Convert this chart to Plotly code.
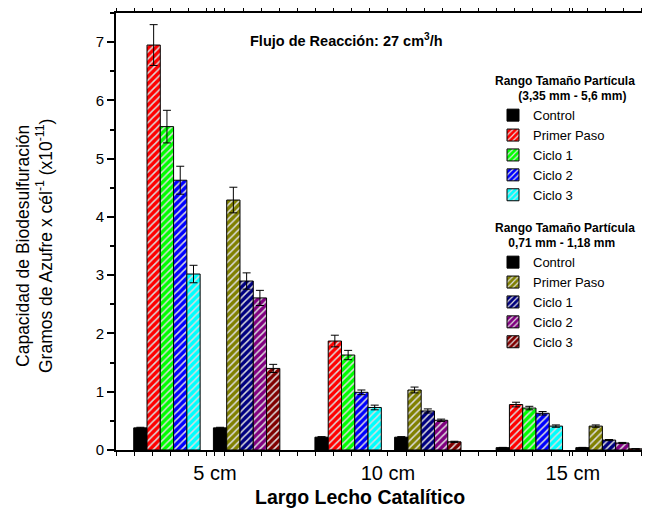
import plotly.graph_objects as go

# ---- data ----
categories = ["5 cm", "10 cm", "15 cm"]
series_names = ["Control", "Primer Paso", "Ciclo 1", "Ciclo 2", "Ciclo 3"]

# Range 1: 3,35 mm - 5,6 mm
r1_control = [0.38, 0.22, 0.04]
r1_primer = [6.95, 1.87, 0.78]
r1_ciclo1 = [5.55, 1.63, 0.72]
r1_ciclo2 = [4.63, 0.99, 0.63]
r1_ciclo3 = [3.02, 0.73, 0.41]
r1_control_err = [0.01, 0.01, 0.005]
r1_primer_err = [0.35, 0.10, 0.04]
r1_ciclo1_err = [0.28, 0.08, 0.03]
r1_ciclo2_err = [0.24, 0.04, 0.03]
r1_ciclo3_err = [0.15, 0.04, 0.02]

# Range 2: 0,71 mm - 1,18 mm
r2_control = [0.38, 0.22, 0.04]
r2_primer = [4.29, 1.03, 0.41]
r2_ciclo1 = [2.90, 0.67, 0.17]
r2_ciclo2 = [2.61, 0.51, 0.12]
r2_ciclo3 = [1.40, 0.14, 0.02]
r2_control_err = [0.01, 0.01, 0.005]
r2_primer_err = [0.22, 0.05, 0.02]
r2_ciclo1_err = [0.14, 0.035, 0.01]
r2_ciclo2_err = [0.13, 0.02, 0.01]
r2_ciclo3_err = [0.07, 0.01, 0.0]

r1_values = [r1_control, r1_primer, r1_ciclo1, r1_ciclo2, r1_ciclo3]
r1_errors = [r1_control_err, r1_primer_err, r1_ciclo1_err, r1_ciclo2_err, r1_ciclo3_err]
r2_values = [r2_control, r2_primer, r2_ciclo1, r2_ciclo2, r2_ciclo3]
r2_errors = [r2_control_err, r2_primer_err, r2_ciclo1_err, r2_ciclo2_err, r2_ciclo3_err]

# ---- style ----
r1_colors = ["#000000", "#FF0000", "#00FF00", "#0000FF", "#00FFFF"]
r2_colors = ["#000000", "#808000", "#000080", "#800080", "#800000"]
FONT = "Arial, Liberation Sans, sans-serif"

x_idx = list(range(len(categories)))
bar_w = 0.0733
n_slots = 11

fig = go.Figure()


def add_series(values, errors, colors, slot_start, legend_name):
    for i, (name, vals, errs, col) in enumerate(zip(series_names, values, errors, colors)):
        slot = slot_start + i
        hatched = i != 0
        marker = dict(color=col, line=dict(color="black", width=1))
        if hatched:
            marker["pattern"] = dict(shape="/", fgcolor="#dcdcdc", bgcolor=col,
                                     size=5, solidity=0.3, fillmode="replace")
        fig.add_trace(go.Bar(
            x=x_idx, y=vals, name=name,
            width=bar_w, offset=-n_slots / 2 * bar_w + slot * bar_w,
            marker=marker,
            error_y=dict(type="data", array=errs, color="black", thickness=1, width=4),
            legend=legend_name,
        ))


add_series(r1_values, r1_errors, r1_colors, 0, "legend")
add_series(r2_values, r2_errors, r2_colors, 6, "legend2")

# page body margin offsets the figure by 8px; compensate
OFF = 8
W, H = 650 - OFF, 512 - OFF
ml, mt, mb, mr = 116 - OFF, 13 - OFF, 62, 0
pw, ph = W - ml - mr, H - mt - mb


def px_x(p):
    return (p - OFF - ml) / pw


def px_y(p):
    return 1 - (p - OFF - mt) / ph


NB = "\u00a0"

fig.update_layout(
    width=W, height=H,
    margin=dict(l=ml, r=mr, t=mt, b=mb),
    barmode="overlay",
    plot_bgcolor="white", paper_bgcolor="white",
    font=dict(family=FONT, color="black"),
    xaxis=dict(
        range=[-0.501, 2.446],
        tickmode="array", tickvals=[0.045, 1, 2.02], ticktext=categories,
        tickfont=dict(size=20), ticks="outside", ticklen=4, tickcolor="black",
        showline=True, linecolor="black", linewidth=2, mirror="ticks",
        minor=dict(dtick=0.1, tick0=0, ticks="outside", ticklen=4, tickcolor="black"),
        showgrid=False, zeroline=False,
    ),
    yaxis=dict(
        range=[0, 7.5], dtick=1, tick0=0,
        tickfont=dict(size=15), ticks="outside", ticklen=7, tickcolor="black", tickwidth=1.5,
        showline=True, linecolor="black", linewidth=2,
        minor=dict(dtick=0.5, ticks="outside", ticklen=4, tickcolor="black"),
        showgrid=False, zeroline=False,
    ),
    legend=dict(
        x=px_x(493), y=px_y(69), xanchor="left", yanchor="top",
        bgcolor="rgba(0,0,0,0)", font=dict(size=13, family=FONT),
        title=dict(text="<b>Rango Tamaño Partícula</b><br><b>" + NB * 7 + "(3,35 mm - 5,6 mm)</b>",
                   font=dict(size=12, family=FONT)),
    ),
    legend2=dict(
        x=px_x(493), y=px_y(216), xanchor="left", yanchor="top",
        bgcolor="rgba(0,0,0,0)", font=dict(size=13, family=FONT),
        title=dict(text="<b>Rango Tamaño Partícula</b><br><b>" + NB * 4 + "0,71 mm - 1,18 mm</b>",
                   font=dict(size=12, family=FONT)),
    ),
    showlegend=True,
)

fig.add_annotation(
    text="<b>Flujo de Reacción: 27 cm<sup>3</sup>/h</b>",
    xref="paper", yref="paper", x=px_x(346), y=px_y(40),
    xanchor="center", yanchor="middle", showarrow=False,
    font=dict(size=14.5, family=FONT),
)
fig.add_annotation(
    text="Capacidad de Biodesulfuración<br>Gramos de Azufre x cél<sup>-1</sup> (x10<sup>-11</sup>)",
    xref="paper", yref="paper", x=px_x(35), y=px_y(246),
    xanchor="center", yanchor="middle", showarrow=False, textangle=-90,
    font=dict(size=17.5, family=FONT),
)
fig.add_annotation(
    text="<b>Largo Lecho Catalítico</b>",
    xref="paper", yref="paper", x=px_x(360), y=px_y(497),
    xanchor="center", yanchor="middle", showarrow=False,
    font=dict(size=19.5, family=FONT),
)

fig.write_html("out.html")
